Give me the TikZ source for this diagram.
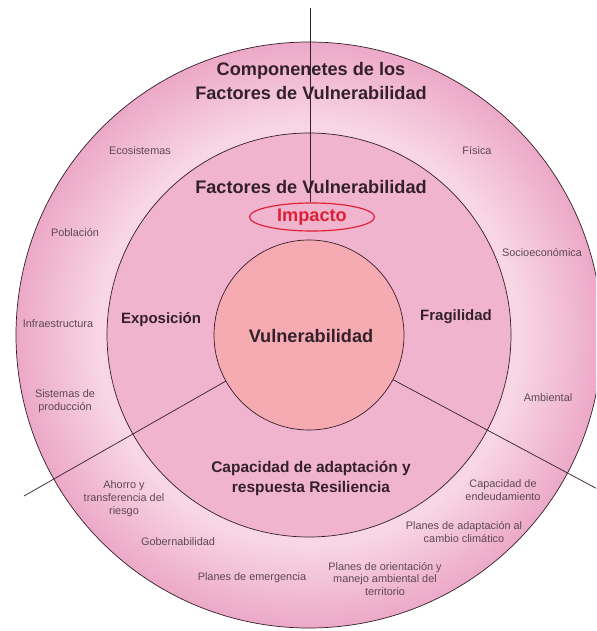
\documentclass[tikz,border=0pt]{standalone}
\usepackage{fontspec}
\setmainfont{Liberation Sans}
\usetikzlibrary{shapes.geometric}

\definecolor{ringdark}{RGB}{236,168,200}
\definecolor{ringlight}{RGB}{248,214,228}
\definecolor{midpink}{RGB}{241,180,206}
\definecolor{corepink}{RGB}{246,170,178}
\definecolor{impred}{RGB}{222,32,52}
\definecolor{inkdark}{RGB}{52,32,42}
\definecolor{inksoft}{RGB}{95,72,84}
\pgfdeclareradialshading{ringshade}{\pgfpointorigin}{color(0bp)=(ringlight); color(18bp)=(ringlight); color(25bp)=(ringdark); color(50bp)=(ringdark)}

\tikzset{
  ring/.style={circle, draw=inkdark, line width=0.6pt, inner sep=0pt},
  bigtxt/.style={font=\fontsize{15.5}{21}\selectfont\bfseries, text=inkdark, align=center},
  midtxt/.style={font=\fontsize{12.8}{16}\selectfont\bfseries, text=inkdark, align=center},
  smalltxt/.style={font=\fontsize{9.3}{11}\selectfont, text=inksoft, align=center},
  conn/.style={draw=inkdark, line width=0.6pt}
}

\begin{document}
\begin{tikzpicture}[x=0.3mm,y=-0.3mm]
\useasboundingbox (0,0) rectangle (596,631);
\clip (0,0) rectangle (596,631);
\fill[white] (0,0) rectangle (596,631);
%
\node[ring, shade, shading=ringshade, minimum size=175.8mm] (outer) at (309,335) {};
\node[ring, fill=midpink, minimum size=121.2mm] (middle) at (309,335) {};
\node[ring, fill=corepink, minimum size=57mm] (core) at (309,335) {};
%
\coordinate (topend) at (310,8);
\coordinate (llend) at (24,496);
\coordinate (lrend) at (618,500);
\draw[conn] (core.209.5) -- (llend);
\draw[conn] (core.-28) -- (lrend);
%
\node[bigtxt] (comp) at (311,81) {Componenetes de los\\Factores de Vulnerabilidad};
\node[bigtxt] (factores) at (311,187) {Factores de Vulnerabilidad};
\node[bigtxt] (vulner) at (311,336) {Vulnerabilidad};
\node[midtxt] (expo) at (161,320) {Exposición};
\node[midtxt] (fragil) at (456,317) {Fragilidad};
\node[font=\fontsize{13.2}{17}\selectfont\bfseries, text=inkdark, align=center] (capac) at (311,478) {Capacidad de adaptación y\\respuesta Resiliencia};
\node[ellipse, draw=impred, line width=1pt, fill=midpink, text=impred, inner sep=0pt, minimum width=37.5mm, minimum height=8.4mm, font=\fontsize{15.5}{19}\selectfont\bfseries] (impacto) at (312,217) {Impacto};
\draw[conn] (topend) -- (topend |- impacto.north);
%
\node[smalltxt] (eco) at (140,151) {Ecosistemas};
\node[smalltxt] (pobl) at (75,233) {Población};
\node[smalltxt] (infra) at (58,324) {Infraestructura};
\node[smalltxt] (sist) at (65,401) {Sistemas de\\producción};
\node[smalltxt] (fisica) at (477,151) {Física};
\node[smalltxt] (socio) at (542,253) {Socioeconómica};
\node[smalltxt] (amb) at (548,398) {Ambiental};
\node[smalltxt] (ahorro) at (124,499) {Ahorro y\\transferencia del\\riesgo};
\node[smalltxt] (gober) at (178,542) {Gobernabilidad};
\node[smalltxt] (emerg) at (252,578) {Planes de emergencia};
\node[smalltxt] (orient) at (385,579) {Planes de orientación y\\manejo ambiental del\\territorio};
\node[smalltxt] (adapt) at (464,532) {Planes de adaptación al\\cambio climático};
\node[smalltxt] (endeu) at (503,490) {Capacidad de\\endeudamiento};
%
\end{tikzpicture}
\end{document}
